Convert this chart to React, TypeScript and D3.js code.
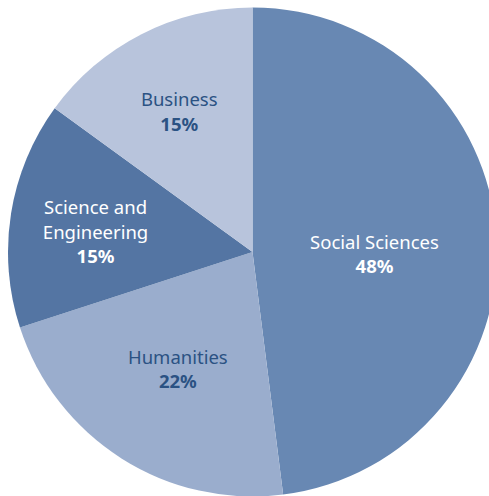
import React from 'react';
import * as d3 from 'd3';

const categories = ['Social Sciences', 'Humanities', 'Science and Engineering', 'Business'];
const shares = [48, 22, 15, 15];
const labelLines = [['Social Sciences'], ['Humanities'], ['Science and', 'Engineering'], ['Business']];

const colors = ['#6888b3', '#9aadcd', '#5475a3', '#b8c4dc'];
const textColors = ['#ffffff', '#2b5283', '#ffffff', '#2b5283'];
// label placement: fraction of radius, plus a small vertical nudge
const labelRadius = [0.5, 0.57, 0.65, 0.66];
const labelNudge = [10, 0, 5, 4];

const W = 489;
const H = 496;
const cx = 252.5;
const cy = 252;
const R = 244.5;

const App: React.FC = () => {
  const pie = d3.pie<number>().sort(null).value(d => d)(shares);
  const arc = d3.arc<d3.PieArcDatum<number>>().innerRadius(0).outerRadius(R);
  const lineH = 24.5;

  return (
    <svg width={W} height={H} style={{ position: 'absolute', left: 0, top: 0, background: '#fff' }}>
      <g transform={`translate(${cx},${cy})`}>
        {pie.map((p, i) => (
          <path key={categories[i]} d={arc(p) || ''} fill={colors[i]} />
        ))}
        {pie.map((p, i) => {
          const r = R * labelRadius[i];
          const [x, y] = d3.arc<d3.PieArcDatum<number>>().innerRadius(r).outerRadius(r).centroid(p);
          const lines = [...labelLines[i], `${shares[i]}%`];
          const y0 = y + labelNudge[i] - ((lines.length - 1) * lineH) / 2;
          return (
            <text key={'l' + i} x={x} textAnchor="middle" fill={textColors[i]}
              style={{ fontFamily: '"Noto Sans", "Open Sans", sans-serif', fontSize: 18.5 }}>
              {lines.map((t, j) => (
                <tspan key={j} x={x} y={y0 + j * lineH} dy="0.35em"
                  fontWeight={j === lines.length - 1 ? 700 : 400}>{t}</tspan>
              ))}
            </text>
          );
        })}
      </g>
    </svg>
  );
};

export default App;
